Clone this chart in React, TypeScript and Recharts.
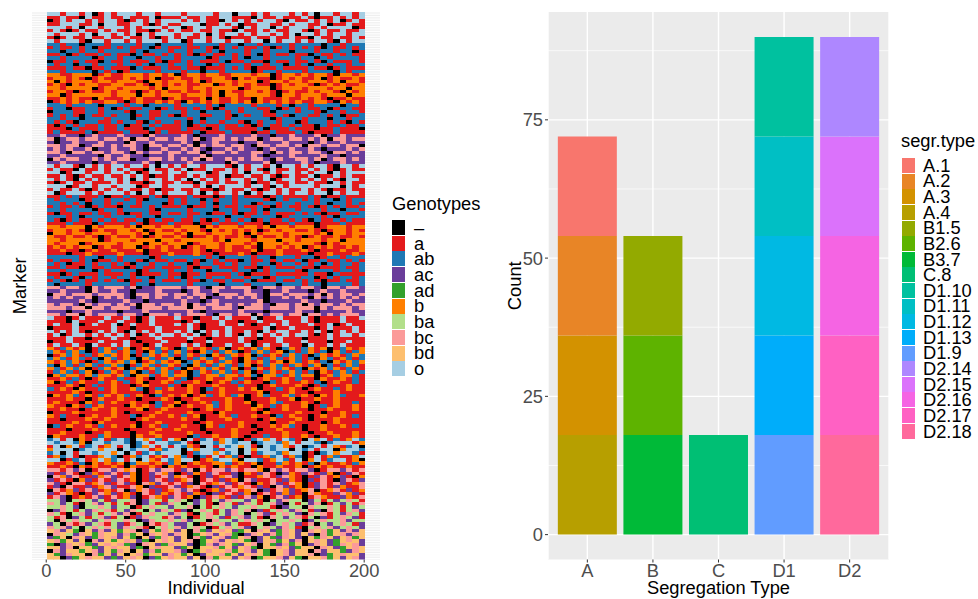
import React from 'react';
import { ScatterChart, Scatter, BarChart, Bar, XAxis, YAxis, CartesianGrid } from 'recharts';

const FONT = '"Liberation Sans", Arial, sans-serif';

// left panel: genotype legend, one letter per genotype in the rows below
const genotypeLabels = ['–', 'a', 'ab', 'ac', 'ad', 'b', 'ba', 'bc', 'bd', 'o'];
const genotypeCodes = ['x', 'a', 'p', 'c', 'd', 'b', 'g', 'r', 'y', 'o'];
const genotypeColors = ['#000000', '#E31A1C', '#1F78B4', '#6A3D9A', '#33A02C', '#FF7F00', '#B2DF8A', '#FB9A99', '#FDBF6F', '#A6CEE3'];
const individualTicks = [0, 50, 100, 150, 200];

// estimated by eye, one letter = block of 4 individuals x 2 markers, top to bottom
const band01 = [
  'ooaooaoxao aoooaooaoo oaooooaoox ooaoaoooao aoxooaooao',
  'aaoaaxoaao aaoaaaoxaa aoaaoaaooa aaxoaaoaaa oaxaaoaoao',
  'xaoaooaoao oaxaoaoaoo oaoaoaaxoa oaoaooaxoa aoaoaoxaoa',
  'aaoooaaoxo oaaooaxaoa aoooxaaoao xaaooaaoao oaaoxaaoaa',
  'oooaoxooao ooaoaoooao oxaooaoooa xoaooxoaoo oaoaooooxa',
  'aoaxaoaaoa oaaoaaxaoa oaaoaaoaax oaaoaoaaoo axaoaaoaao',
  'oaoooaoxoo aoaoxoaooo aooaoxoaoo aoaooaoaox ooaoaooaoo',
  'axaoaaoaao aaoaaoaxao aoaaoaoaxa aaoaaoaaoa axoaaoaaoa',
  'oaoooaxooa ooaoaoooao oxaooaooao oaooxoaooa oaooaxoaoo',
];
const band02 = [
  'ppappxpppa ppppappxpp ppappppapp xppappppap pppxppappp',
  'apaapapxaa papaapxapa apaapaxapa paapaxapap apaxpaapap',
  'ppxppappap pppapxpppa ppappapxpp pappapppxp ppappappxa',
  'aapxapaapa paaxpaapap apaxapaapa papxapaapa axpaapapaa',
  'ppappppxap pappxppapp appppxappa pxppappppa ppxpappppa',
  'xaapapaaxp aapaaapaxa apapaaapxa apaaxpaapa apaxpaaapa',
  'pappxppapp pappapxppa ppappxpapp pappappxpa pxppappapp',
  'aaapaaxaap aaaxpaaapa apaaxaaapa paxaaapaaa apaaxapaaa',
  'ppappppxpa pxappppapp pappxppapp ppxappappp appppxpapp',
];
const band03 = [
  'bbaabbbxab aabbbabbab xabbabbaab bbabbxabba babbaxbbab',
  'abbabaxaba aabababxaa baabaabbax babaaxabab aabxabaaba',
  'bxbabbbabb abbbaxbbab bbabxabbba bbbxabbabb abbbabxbba',
  'abaxbabbaa bbaabaxbab abaabbxaba babaaxabab baxababaab',
  'bbabbbbxab babbbbabxb bbabbabbbb xabbbxabbb abbbabbxbb',
  'abbaxabaab abbaxababa abaababxba abbabaxaba ababbaxbab',
  'bbxabbbbbb abbbxbbabb babbbabxbb abbbbaxbba bbbabbbxbb',
  'aababaaxba aababaaaxa baaabxbaab aaxbaaabaa babaxaabaa',
  'xabababaab baxabaabab axbababaab abxbababab aabbaxbaba',
];
const band04 = [
  'pppappppxp ppappxpppp appppapxpp ppapppapxp pappppxppa',
  'appxaappap xapaappxap aapapaxapp appaapxapa paapxappaa',
  'xpppaappap ppaxppaapp pappxpppap apppaxpppa ppaxppappa',
  'apapaxpaap appxapaapa xappaappax pappaapaxp paapapxaap',
  'ppappxpppa pppxppappp ppapxpppap pppppxappp apppxppapp',
  'papaxpppaa pappaxpapp apxpappapp axpappappx apppapaxpa',
  'axapapaapa apxaapapaa apxapaapaa paxapaapap aaxpaapaap',
  'aaaxpaaapa apaaaxpaaa apaaaxapaa aaapxaaapa aaxaapaaax',
  'apaaaapxaa aapaaaxapa aaapxaaapa aaxaapaaap axaaapaaaa',
];
const band05 = [
  'ccrccxcrcc crcccxrccc crcxcccrcc ccrccxccrc ccrxccrccc',
  'rxcrrcrrcr rcrxrrcrrc rrcrxcrrcr crrxcrrcrr crcrxrrcrr',
  'cxccrcccrc ccxrccrccc crcxccrccc xccrcccrcc cxcrccrccc',
  'rrcrrxcrrc rcrrcxrrcr rcrxrcrrcr rcxrrcrrcr xrrcrrcrrx',
  'crcrccrxcc rccrcxccrc crcrcxccrc rccxcrccrc crcxcccrcr',
  'rrcxrrcrrc rrcxrcrrcr rcrrxcrrcr ccrrcxrcrr crrcxrrcrc',
  'ccrcccccxr ccrccxcccr ccccrxcccc ccrcxcccrc cccrccxccc',
  'xrcrrccrcr crrxccrrcr crcrxrccrc rcrrcxrccr rcrxcrrcrc',
  'ccrccccxcc rccccrcxcc ccrcccccxr ccccrxcccc rcxcccrccc',
];
const band06 = [
  'oaooaxoaoa ooaooaoxoa oaooaoooax oaooaoxooa oaooaxooao',
  'aoaaxoaaoa oaoaaxoaao aoxaaoaaoa oaoaxoaaoa aoaoaxaoaa',
  'ooxaooaooa ooaoxaooao oaoooxaooa oxooaoaooa oaooxoaooo',
  'aaoaxaoaao aaoaoaxaao aaoaoaaoxa aoaaoaxaoa aoxaaoaoaa',
  'oaoaxoaoao oaoxoaooao aoxoaoaoao oaoaoxaooa oaoaoaxooa',
  'axaoaaoaaa oaoaaxaoaa oaaxoaaoaa oaxaaoaaoa aoaaxoaoaa',
  'oooxaooaoo aoooxaooao oooaoxoaoo oaooaxoaoo ooaoooxoao',
  'aoaaoaxaoa oaoaaoaxaa oaaoaaxaoa aoaxaoaoaa oaoaxaaoaa',
  'oxaoooaoao ooaoxoaoao ooaoxoaooa oxoaooaoao oaooxoaooa',
];
const band07 = [
  'aapapaaapx aapaaapaxa aapaaaxapa paaaxapaaa apaxaapaaa',
  'papppxappa ppapaxpppa pappxpappa ppppaxpapp apappxpapp',
  'ppapapxppa pappapppxa pappapxppa ppxappappa ppapxppapa',
  'apaapaxapa axpaapapaa apxaapapaa paapaxapaa paxapapaap',
  'ppappppxap pappppaxpp ppapppxppa ppapxppppa pppappxppa',
  'axaapaapaa paxaapaapa apaapxaapa xaapapaaap apaxaapaap',
  'pppapxpppa ppppappxpp ppapppppxp pappppxapp pppapxpppp',
  'paxapaapap apaapxapaa paapaxapap apxapaapap axpaapapaa',
  'aaapaaaxpa aaapaxaaap aaaxaapaaa paaaxaaapa aaxaaapaaa',
];
const band08 = [
  'bbabbbxbab bbabxbbabb abbbxbabbb abbabxbbab bbxabbbabb',
  'abbabaxaba abbabxabaa babbaxbaba babxababba abaxabbaba',
  'xbbabbabbb abbbabxbbb abxbbabbba bxbabbbabb bbabxbbabb',
  'baabaabaxa baabaxabaa baxaababaa baxbaababa xabaabaaba',
  'bbabbbbbxa bbbabbbxbb abbbbbabxb bbabbbxbba bbbabbxbbb',
  'babbbxabbb babbbxbbab bbxabbbabb babxbbbabb bbaxbabbbb',
  'abababbxab aabbxababa bxababbaba abaxbbabab xababaabab',
  'aabaaxabaa baaabxaaba aaabaxaaba aabxaabaaa baxaaabaab',
  'aaaxaabaaa abaaaxaaab aaabaaxaaa baxaaabaaa axaabaaaba',
];
const band09 = [
  'pppppappxp pappppxapp pppppapxpp ppappxpppa ppxappappp',
  'apaapapxaa pappaxpaap aapaxpapaa xpaapapaap xaapaapapa',
  'papxaapapp apaxppappa ppxappaapa ppappxappa papxpappap',
  'aapaaxpaap aaxapaapaa apaxaapaaa paaxapaaap aaxaaapaap',
  'ppappppxpa ppppxapppa ppappxpppa ppxpappppa xppppappap',
  'aaxapaaapa aapaxaaapa axaapaaaap axaaapaaaa apaaxpaaaa',
  'pappaxpapp appappxppa pxappappap pappxapppa ppxapappap',
  'apaxapaapa paxaapapaa apaaxpaapa apxaaapaap apaxaapaap',
  'pxppppappp pppappxppp ppappppxpp pappppxppp appxppppap',
];
const band10 = [
  'rrcrrcxrcr rrcrxccrrr rcrrcxrrcr rrxcrrcrrc rrcxrrcrrc',
  'ccrcccxrcc rccxcccrcc cxcrccrccc crccxccrcc cxcrccrccc',
  'xrrcrrrcrr rrcxrrcrrc rrcrrcxrrr crrcxrrcrr rcrxrcrrcr',
  'crcrccrxcr crcxcrcrcc rcrcrxccrc rcrcxccrcr cxrcrcrcrc',
  'cccccrcxcc ccrccxcccc crccxcrccc cccrxccccc rccxcccrcc',
  'rcrrcxrcrr crcrxrrcrr crxrcrrcrc rcrrcxrrcr xrcrrcrcrr',
  'rrrcrrxrrc rrrcxrrrcr rrxrrcrrrc xrrrcrrrcr rrxrcrrrcr',
  'cccxccrccc cxcccrcccc ccrcxccccc rcccxccccr ccxccccrcc',
  'rrcrrxrcrr rcrrcxrrrc rcrrrcxrrc rrxrcrrcrr xrrcrcrrrc',
];
const band11 = [
  'oaaxaoaaao aaoaxaoaaa oaaxaaoaoa aaoxaaoaaa oaxaaaoaao',
  'aaaxoaaaoa aoaaxaoaaa axaoaaaoaa xaaoaaaoaa oaxaaaoaaa',
  'aoaaoxaoaa oxaoaaoaaa oaoaxaaoaa oaxaaoaoaa aoaaoxaoaa',
  'xaaaoaaaaa oaaxaaaoaa aaoaxaaaoa aaaaoxaaoa aaxaoaaaoa',
  'oaoaoaxaoa oaxoaoaoaa oaoxoaoaoa aoaxoaooaa oaoaxaoaoa',
  'aoxaooaoao aoaoxaoaoo aoaoxaoaoa xoaoaoaoao oaxaoaooao',
  'aaaoaaxaaa oaaxaaaoaa aaoaaxaaaa oaaxaaoaaa xaaaoaaaaa',
  'xaaoaaaaoa aaoaxaaaoa aaxaaoaaaa oaxaaaoaaa oaaaxaaoaa',
  'aoaaoaxoaa oaoaaxaoaa aoaoaxaaoa aoxaoaaoaa xoaaoaoaaa',
];
const band12 = [
  'bapbabxapb apbxabapba xpbabapbxa babpbaxpba pbabxapbab',
  'pbapbpxapb pabpaxbpap bpaxbpapbp xapbpabxpa pbapxbpapb',
  'xabpbapabp babxapbabp apbapxbapb abxpabapbp axpbabapbp',
  'pbpabpapxb pabpxbpapb xpapbpabpa xbpapbpabp apxbpabpap',
  'babpbaxapb abpbxabpba bxpbabapba xbabpabxbp abapxbabpb',
  'pxbpapbpap bpxapbpapb apxbpapbpa pbxapbpapb apbxpapbpa',
  'bpabpbxapb abxpbabpba pxbabpbapb xapbabpbap xbabpbapba',
  'apbpapbxap bapbxpapbp abxpbapbpa pbxapbapbp apxbapbpap',
  'xbpbbabpbb abpxbbpabp bbxpabbpbb abpxbbpabp bbxabpbbpa',
];
const band13 = [
  'aabapaxaba apaabaxaab apxaabaaba paxabaabap aaxbaabapa',
  'bxapabaapa bapabxaaba paabaxabap abaaxpabaa bapxabaapa',
  'aaabaxapaa baaxabaaap axbaaabaaa paaxabaaab axapaaabaa',
  'pabaxbaapa baabpxapab aabaxpabaa babxaapaba xabaapabaa',
  'aaaabaxaaa baaaaxabaa aabaxaabaa aaabxaaaba axaaabaaaa',
  'xbabpabapb abpabaxpab abxabpabap bxabpaabpa baxbabpaab',
  'aaabaaxaba abaaxaaaba xaabaaaaba axaaabaabx aabaabaaaa',
  'abaaaxbapa baabaaxpaa bxaabapaba abxaabpaaa baxaabaapa',
  'baaxbapaba aaxbabapab xabaabpaba aaxbapabaa bxapabaaba',
];
const band14 = [
  'aabaaxabaa baaabxaaba aaaxabaaba aabaxaabaa axaabaaaba',
  'xaaabaaaaa baxaaaabaa aabaaaxbaa aaaxbaaaab aaaxaabaaa',
  'bapaaxabaa baapxabaab apabxaabap aabaaxpaba axabaabapa',
  'aaxaaabaab aaaxabaaaa abaaxaaaba aaaxabaaab axaaabaaaa',
  'aaaabaaxba aaaaxaabaa aaaxabaaaa baaaaxaaba aaaxabaaaa',
  'xpabaabapa baabxabapa abaaxbapaa baxaababpa xaabaabapa',
  'aaaxaaabaa aaxaaaabaa baaaxaaaab aaaxaabaaa xaabaaaaaa',
  'aabaaaxaab aaaxaabaaa aabaaxaaab aaxaaaabaa axaabaaaba',
  'xbaaabaapb aaaxbaabaa aaxpaabaab axaapaabaa baxaabaaba',
];
const band15 = [
  'poaoxbapoa popxobopao bxoapoabop xapoboaopa xoboapabop',
  'opoopbxoop oopxpoaoop poaxoopbop ooxpoopboa oopxpoooab',
  'aoxboapoab oaoxpboaoa opbaxoaopo boaxopobao xpoaobapox',
  'boooxpoobo oxopooabpo oxoboopaoo xoboopooxo poaooxboop',
  'poxoaoopoo boxoapopoo oxapoobopo xoapoopboo xaxpoboopa',
  'abpoaxaabo pxabpoabao bpaxpaoabp axaabpoabp xaoabpaabo',
  'ooxapoabob poaoxobaop booxabpoob xoopabopao xboapooabx',
  'baabapxbab abxpbbabap bxabaabbpa babxaapbab apxbaabapb',
  'aabaxbabaa baxbaabaxb abaabaxbab aaxbaabaab xababaabaa',
];
const band16 = [
  'rrarcrxarr crbrxarcrr acrxrarrcr arrbxrcrar rcxarrcrar',
  'cacraxcbac racbxacrbc xacbacraac xbacraxcba cracbxacra',
  'xrbcraacbr carbxacarc braxacabrc xaabracrba xacrabcaxb',
  'caraxbcara crabxacrac abrxaracab xrcaaracba xcaraxcrac',
  'rcaxrrabrc arcaxrbcra racxrabrca raxbarcarb xacrarcabr',
  'acxraacabr caarbxcaar cabraxcara bracaxrcab xacracbaar',
  'xrabcarcab arxcbracab rcraxabcar abrxcarbca brxabracab',
  'carbaxacrb cabaxracba racbaxcara cbxaracbca xrbaacrbca',
  'arcxabarca rabcxarbac rabxcarbac arcbxarcab xarbaacbar',
];
const band17 = [
  'ggcxgrgcga cggrxcggag rgxcgagcrg gcgaxgcrgg xcgagcgrga',
  'rgcgaxgrcg agarxcgacr gxgcgaxrga crgagrcxga gcrxagcgar',
  'ggrgcxggrg cggxagrggc ggrxgagrgc ggrggaxcgg xrggrgagcg',
  'xcrgagcrgr agcrgxgcrg acxgrgagcr grxcagrgcr gacxrgagrc',
  'rgaxgrcgag rcrxagrggc rgaxgragcr gxgrcagrgc xrgragcrga',
  'garxcgagrc agxacrggar cgxagrgcag rcgaxrgcgr agxcagrgca',
  'gxrgrggcgr ggrgxcrggr grcggxrggc grgrgxggrg xcgrggrcgg',
  'cgxrarcgra gcargxrarg ccgxargrcg aargxcgrgc arxgcgrgac',
  'rgrcgxgrgr gcrgraxgrg rcgrgxagrg rcxgrgcrga xgrgrcgrgc',
];
const band18 = [
  'yrcydxycrc ydyrxcydry cyxrdcyryc dyxrycdryc xryrdycrcy',
  'xrygcrydry ycrdyxryrc ryxdyrcyrd xcrycrdryc ycxrdyrcry',
  'cdyxrycdry rcydxycdry cyxrdcyrcd yrxcydcryc xydrycyrdy',
  'yrdycyxrcy dyrycdxyry cyrxdyrcyr ydxcyrdycr xyrycdyryc',
  'dxcryrdcyr yrdcxrycdr yycxdrcryd cyrxydcrdy xcrycdryrc',
  'yycrxyydcy ryycdxyryy cdyxyyrdyc yrdxyyrycd yyxrycdyry',
  'xrcyydyrcy dryxycrdyy rcxdyryyrd yrcydxyrcy yxrcyydcry',
  'ydcryyxrdy cyxyrdyycr ydyxcyyrdy cyrydxyrcy yrxcdyryyc',
  'yyxcdyryyc dcyryxcdyr yycyxrdyyc yrxdyyrcyd xyyrdycyrc',
];
const bands = [band01, band02, band03, band04, band05, band06, band07, band08, band09,
  band10, band11, band12, band13, band14, band15, band16, band17, band18];

// right panel
const segrTypes = ['A.1', 'A.2', 'A.3', 'A.4', 'B1.5', 'B2.6', 'B3.7', 'C.8', 'D1.10', 'D1.11', 'D1.12', 'D1.13', 'D1.9', 'D2.14', 'D2.15', 'D2.16', 'D2.17', 'D2.18'];
const segrGroups = ['A', 'A', 'A', 'A', 'B', 'B', 'B', 'C', 'D1', 'D1', 'D1', 'D1', 'D1', 'D2', 'D2', 'D2', 'D2', 'D2'];
const segrCounts = [18, 18, 18, 18, 18, 18, 18, 18, 18, 18, 18, 18, 18, 18, 18, 18, 18, 18];
const segrColors = ['#F8766D', '#E88526', '#D39200', '#B79F00', '#93AA00', '#5EB300', '#00BA38', '#00BF74', '#00C19F', '#00BFC4', '#00B9E3', '#00ADFA', '#619CFF', '#AE87FF', '#DB72FB', '#F564E3', '#FF61C3', '#FF699C'];
const groupNames = ['A', 'B', 'C', 'D1', 'D2'];
const countTicks = [0, 25, 50, 75];
const countMinorTicks = [12.5, 37.5, 62.5, 87.5];

const BLOCK_COLS = 4;
const BLOCK_ROWS = 2;
const ROWS_PER_BAND = 9;
const MARKERS = 324;
const LEFT_W = 490;
const RIGHT_W = 410;
const CHART_H = 599;
const PLOT_TOP = 12;
const LEFT_PLOT_W = 348;
const PLOT_H = 547.5;
const X_MIN = -8.95;
const X_MAX = 209.95;
const Y_MIN = 0.4;
const Y_MAX = 324.6;
const FONT_SIZE = 18.3;

const cellW = (LEFT_PLOT_W / (X_MAX - X_MIN)) * BLOCK_COLS;
const cellH = (PLOT_H / (Y_MAX - Y_MIN)) * BLOCK_ROWS;

// one white line per marker, as the discrete y axis of the original draws them
const markerLines: number[] = [];
for (let m = 1; m <= MARKERS; m++) {
  markerLines.push(PLOT_TOP + ((m - Y_MIN) * PLOT_H) / (Y_MAX - Y_MIN));
}

const heatPoints = genotypeCodes.map((code) => {
  const pts: { x: number; y: number }[] = [];
  bands.forEach((band, b) => {
    band.forEach((raw, r) => {
      raw.replace(/ /g, '').split('').forEach((ch, c) => {
        if (ch === code) {
          pts.push({
            x: c * BLOCK_COLS + 0.5 + BLOCK_COLS / 2,
            y: (b * ROWS_PER_BAND + r) * BLOCK_ROWS + 0.5 + BLOCK_ROWS / 2,
          });
        }
      });
    });
  });
  return pts;
});

const barRows = groupNames.map((g) => {
  const row: Record<string, string | number> = { group: g };
  segrTypes.forEach((t, i) => {
    if (segrGroups[i] === g) row[t] = segrCounts[i];
  });
  return row;
});

const HeatCell = (props: any) => (
  <rect
    x={props.cx - cellW / 2}
    y={props.cy - cellH / 2}
    width={cellW + 0.2}
    height={cellH + 0.2}
    fill={props.fill}
    shapeRendering="crispEdges"
  />
);

const tickStyle = { fill: '#4D4D4D', fontSize: FONT_SIZE, fontFamily: FONT };
const titleStyle = { fill: '#000', fontSize: FONT_SIZE, fontFamily: FONT };

const LegendBlock = ({ title, labels, colors, left, titleLeft, titleTop, keysTop, step, labelLeft }: any) => (
  <div style={{ position: 'absolute', left: 0, top: 0, fontFamily: FONT, fontSize: FONT_SIZE, color: '#000' }}>
    <div style={{ position: 'absolute', left: titleLeft, top: titleTop, whiteSpace: 'nowrap', lineHeight: '20px' }}>{title}</div>
    {labels.map((l: string, i: number) => (
      <React.Fragment key={l}>
        <div style={{ position: 'absolute', left, top: keysTop + i * step, width: 13, height: step - 0.6, background: colors[i] }} />
        <div style={{ position: 'absolute', left: labelLeft, top: keysTop + i * step + step / 2 - 10, lineHeight: '20px', whiteSpace: 'nowrap' }}>{l}</div>
      </React.Fragment>
    ))}
  </div>
);

export default function App() {
  return (
    <div style={{ position: 'absolute', left: 0, top: 0, width: 978, height: 599, background: '#fff', overflow: 'hidden' }}>
      <div style={{ position: 'absolute', left: 0, top: 0 }}>
        <ScatterChart width={LEFT_W} height={CHART_H} margin={{ top: PLOT_TOP, right: 110, bottom: 0, left: 0 }}>
          <CartesianGrid fill="#EBEBEB" stroke="#fff" strokeWidth={1} vertical={false} horizontalPoints={markerLines} />
          <XAxis
            type="number"
            dataKey="x"
            domain={[X_MIN, X_MAX]}
            ticks={individualTicks}
            allowDataOverflow
            height={39.5}
            axisLine={false}
            tickSize={3}
            tickLine={{ stroke: '#333' }}
            tick={tickStyle}
            label={{ value: 'Individual', position: 'insideBottom', offset: 5, style: titleStyle }}
          />
          <YAxis
            type="number"
            dataKey="y"
            reversed
            domain={[Y_MIN, Y_MAX]}
            allowDataOverflow
            width={32}
            axisLine={false}
            tick={false}
            tickLine={false}
            label={{ value: 'Marker', angle: -90, position: 'insideLeft', offset: 20, style: { ...titleStyle, textAnchor: 'middle' } }}
          />
          {heatPoints.map((pts, i) => (
            <Scatter key={genotypeLabels[i]} data={pts} fill={genotypeColors[i]} shape={HeatCell} isAnimationActive={false} />
          ))}
        </ScatterChart>
      </div>
      <div style={{ position: 'absolute', left: 490, top: 0 }}>
        <BarChart
          width={RIGHT_W}
          height={CHART_H}
          data={barRows}
          margin={{ top: PLOT_TOP, right: 11, bottom: 0, left: 0 }}
          barCategoryGap="5%"
        >
          <CartesianGrid fill="#EBEBEB" stroke="#fff" strokeWidth={1.4} horizontalValues={countTicks} />
          <CartesianGrid fill="none" stroke="#fff" strokeWidth={0.7} vertical={false} horizontalValues={countMinorTicks} />
          <XAxis
            dataKey="group"
            padding={{ left: 6.56, right: 6.56 }}
            height={39.5}
            axisLine={false}
            tickSize={3}
            tickLine={{ stroke: '#333' }}
            tick={tickStyle}
            label={{ value: 'Segregation Type', position: 'insideBottom', offset: 5, style: titleStyle }}
          />
          <YAxis
            type="number"
            domain={[-4.5, 94.5]}
            ticks={countTicks}
            allowDataOverflow
            width={58}
            axisLine={false}
            tickSize={3}
            tickLine={{ stroke: '#333' }}
            tick={tickStyle}
            label={{ value: 'Count', angle: -90, position: 'insideLeft', offset: 25, style: { ...titleStyle, textAnchor: 'middle' } }}
          />
          {segrTypes.map((_, i) => segrTypes.length - 1 - i).map((idx) => (
            <Bar key={segrTypes[idx]} dataKey={segrTypes[idx]} stackId="n" fill={segrColors[idx]} isAnimationActive={false} />
          ))}
        </BarChart>
      </div>
      <LegendBlock title="Genotypes" labels={genotypeLabels} colors={genotypeColors} left={392} titleLeft={392} titleTop={194} keysTop={220} step={15.7} labelLeft={414} />
      <LegendBlock title="segr.type" labels={segrTypes} colors={segrColors} left={902} titleLeft={901} titleTop={131} keysTop={158} step={15.63} labelLeft={923} />
    </div>
  );
}
